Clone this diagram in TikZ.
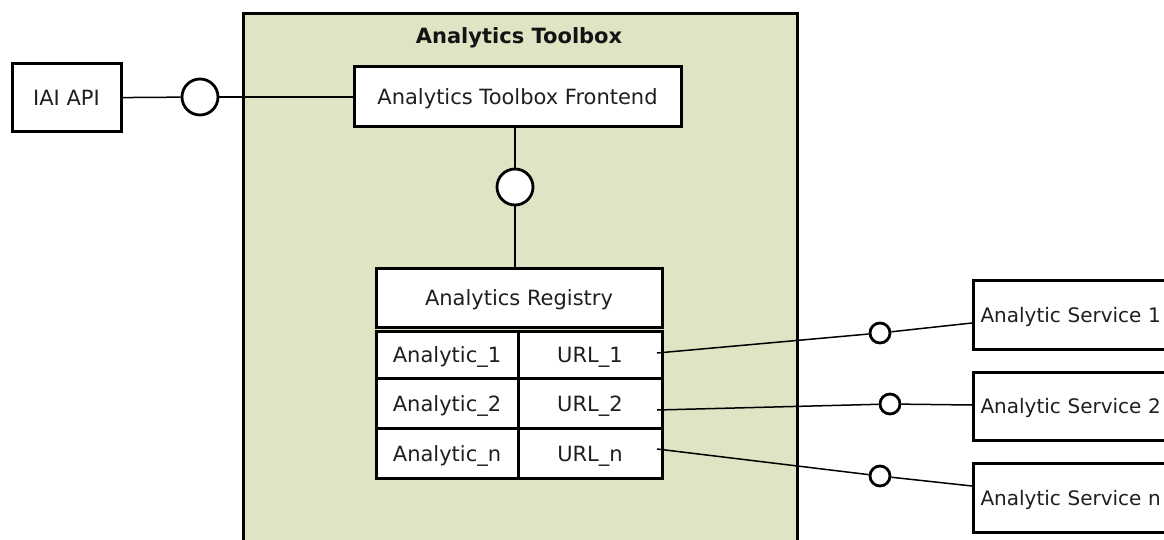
\documentclass[tikz,border=0pt]{standalone}
\usepackage{fontspec}
\setmainfont{DejaVu Sans}
\definecolor{toolboxgreen}{RGB}{222,228,196}
\begin{document}
\begin{tikzpicture}[x=1pt,y=-1pt,
  txt/.style={font=\fontsize{21}{25}\selectfont, text=black!88},
  box/.style={draw, line width=3pt, fill=white, inner sep=0pt, txt,
              text height=15pt, text depth=0pt},
  svc/.style={box, anchor=west, inner xsep=7pt, text width=214pt, align=left,
              font=\fontsize{20}{24}\selectfont},
  iface/.style={circle, draw, line width=2.8pt, fill=white, inner sep=0pt},
  wire/.style={line width=1.5pt}]
\clip (0,0) rectangle (1164,540);
\fill[white] (0,0) rectangle (1164,540);

% the toolbox container
\node[draw, line width=3pt, fill=toolboxgreen, minimum width=554pt,
      minimum height=560pt, inner sep=0pt] (tb) at (520,294) {};
\node[font=\bfseries\fontsize{21}{25}\selectfont, text=black!92] (title) at (519,38) {Analytics Toolbox};

% external API and frontend
\node[box, minimum width=109pt, minimum height=68pt] (iai) at (66.5,98) {IAI API};
\node[iface, minimum size=36pt] (c1) at (200,97) {};
\node[box, minimum width=327pt, minimum height=60pt] (fe) at (517.5,97) {Analytics Toolbox Frontend};
\node[iface, minimum size=36pt] (c2) at (515,187) {};

% registry header and its table
\node[box, minimum width=286pt, minimum height=59pt] (reg) at (519,297.5) {Analytics Registry};
\node[box, minimum width=142pt, minimum height=47pt] (a1) at (447,355) {Analytic\_1};
\node[box, minimum width=144pt, minimum height=47pt] (u1) at (590,355) {URL\_1};
\node[box, minimum width=142pt, minimum height=50pt] (a2) at (447,403.5) {Analytic\_2};
\node[box, minimum width=144pt, minimum height=50pt] (u2) at (590,403.5) {URL\_2};
\node[box, minimum width=142pt, minimum height=50pt] (an) at (447,453.5) {Analytic\_n};
\node[box, minimum width=144pt, minimum height=50pt] (un) at (590,453.5) {URL\_n};

% services outside the toolbox
\node[svc, minimum height=69pt] (s1) at (972,314.5) {Analytic Service 1};
\node[svc, minimum height=68pt] (s2) at (972,406) {Analytic Service 2};
\node[svc, minimum height=69pt] (sn) at (972,497.5) {Analytic Service n};

\node[iface, minimum size=20pt] (i1) at (880,333) {};
\node[iface, minimum size=20pt] (i2) at (890,404) {};
\node[iface, minimum size=20pt] (in) at (880,476) {};

\coordinate (p1) at (657,353);
\coordinate (p2) at (657,410);
\coordinate (pn) at (657,449);
\coordinate (e1) at ([yshift=-8.5pt]s1.west);
\coordinate (e2) at ([yshift=1pt]s2.west);
\coordinate (en) at ([yshift=11.5pt]sn.west);

% connectors
\draw[wire] (iai) -- (c1);
\draw[wire] (c1) -- (fe);
\draw[wire] (c2) -- (fe.south -| c2);
\draw[wire] (c2) -- (reg.north -| c2);
\draw[wire] (p1) -- (i1);
\draw[wire] (i1) -- (e1);
\draw[wire] (p2) -- (i2);
\draw[wire] (i2) -- (e2);
\draw[wire] (pn) -- (in);
\draw[wire] (in) -- (en);
\end{tikzpicture}
\end{document}
